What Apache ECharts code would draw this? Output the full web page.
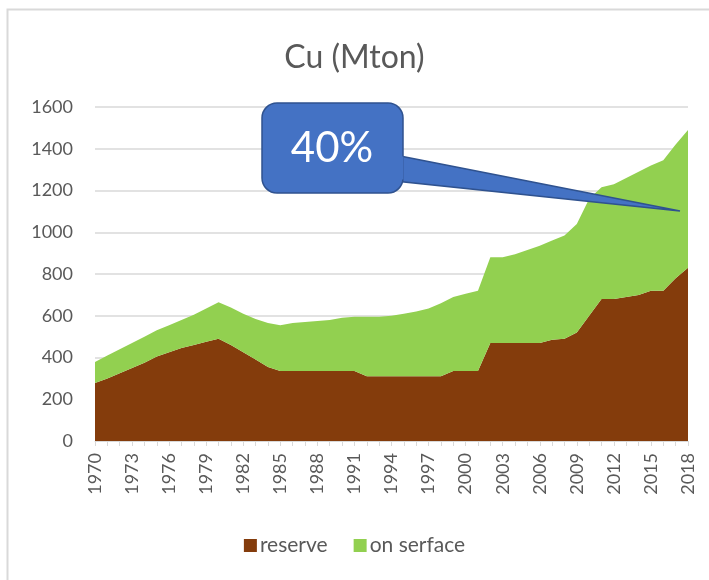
<!DOCTYPE html>
<html>
<head>
<meta charset="utf-8">
<script src="https://cdn.jsdelivr.net/npm/echarts@6/dist/echarts.min.js"></script>
<style>
html,body{margin:0;padding:0;background:#fff;}
#chart{width:709px;height:580px;}
</style>
</head>
<body>
<div id="chart"></div>
<script>
var years = [];
for (var y = 1970; y <= 2018; y++) years.push(String(y));

var reserve = [
  278, 300, 325, 350, 375, 405, 425, 445, 460, 475,
  490, 460, 425, 390, 355, 335, 335, 335, 335, 335,
  335, 335, 310, 310, 310, 310, 310, 310, 310, 335,
  335, 335, 470, 470, 470, 470, 470, 485, 490, 520,
  600, 680, 680, 690, 700, 720, 720, 780, 830
];
var total = [
  378, 410, 440, 470, 500, 530, 555, 580, 605, 635,
  665, 640, 610, 585, 565, 555, 565, 570, 575, 580,
  590, 595, 595, 595, 600, 610, 620, 635, 660, 690,
  705, 720, 880, 880, 895, 915, 935, 960, 985, 1040,
  1160, 1215, 1230, 1260, 1290, 1320, 1345, 1420, 1490
];
var onSurface = total.map(function (t, i) { return t - reserve[i]; });

var seriesNames = ['reserve', 'on serface'];
var yTicks = { min: 0, max: 1600, interval: 200 };
var calloutText = '40%';

var chart = echarts.init(document.getElementById('chart'), null, { renderer: 'canvas' });
var font = 'Lato, "Open Sans", sans-serif';

chart.setOption({
  animation: false,
  backgroundColor: '#fff',
  title: {
    text: 'Cu (Mton)',
    left: 'center',
    top: 37,
    textStyle: { fontFamily: font, fontSize: 32, fontWeight: 'normal', color: '#595959' }
  },
  legend: {
    bottom: 19,
    left: 'center',
    itemWidth: 13,
    itemHeight: 13,
    itemGap: 26,
    icon: 'rect',
    textStyle: { fontFamily: font, fontSize: 21, color: '#595959', padding: [0, 0, 0, -2] },
    data: seriesNames
  },
  grid: { left: 95, right: 21, top: 107, bottom: 139, containLabel: false },
  xAxis: {
    type: 'category',
    data: years,
    boundaryGap: false,
    axisLine: { lineStyle: { color: '#d9d9d9', width: 1 } },
    axisTick: { show: true, interval: 0, length: 5, lineStyle: { color: '#d9d9d9' } },
    axisLabel: {
      interval: 2,
      rotate: 90,
      margin: 12,
      fontFamily: font,
      fontSize: 18,
      color: '#595959'
    },
    splitLine: { show: false }
  },
  yAxis: {
    type: 'value',
    min: yTicks.min,
    max: yTicks.max,
    interval: yTicks.interval,
    axisLine: { show: false },
    axisTick: { show: false },
    axisLabel: {
      margin: 22, fontFamily: font, fontSize: 18, color: '#595959',
      formatter: function (v) { return String(v); }
    },
    splitLine: { lineStyle: { color: '#d9d9d9', width: 1.5 } }
  },
  series: [
    {
      name: seriesNames[0],
      type: 'line',
      stack: 'cu',
      data: reserve,
      symbol: 'none',
      lineStyle: { width: 0 },
      itemStyle: { color: '#843C0C' },
      areaStyle: { color: '#843C0C', opacity: 1 }
    },
    {
      name: seriesNames[1],
      type: 'line',
      stack: 'cu',
      data: onSurface,
      symbol: 'none',
      lineStyle: { width: 0 },
      itemStyle: { color: '#92D050' },
      areaStyle: { color: '#92D050', opacity: 1 }
    }
  ],
  graphic: [
    {
      type: 'rect',
      left: 5, top: 7,
      shape: { width: 740, height: 620 },
      style: { fill: 'none', stroke: '#d9d9d9', lineWidth: 2 },
      silent: true,
      z: 100
    },
    {
      type: 'polygon',
      shape: { points: [[395, 155], [680, 211], [395, 181]] },
      style: { fill: '#4472C4', stroke: '#2F528F', lineWidth: 1.5 },
      z: 101
    },
    {
      type: 'rect',
      shape: { x: 262, y: 103, width: 141, height: 90, r: 15 },
      style: { fill: '#4472C4', stroke: '#2F528F', lineWidth: 1.5 },
      z: 102
    },
    {
      type: 'rect',
      shape: { x: 398, y: 156.5, width: 5.5, height: 23 },
      style: { fill: '#4472C4' },
      z: 103
    },
    {
      type: 'text',
      x: 332, y: 148,
      style: {
        text: calloutText,
        fill: '#fff',
        fontFamily: font,
        fontSize: 42,
        align: 'center',
        verticalAlign: 'middle'
      },
      z: 104
    }
  ]
});
</script>
</body>
</html>
